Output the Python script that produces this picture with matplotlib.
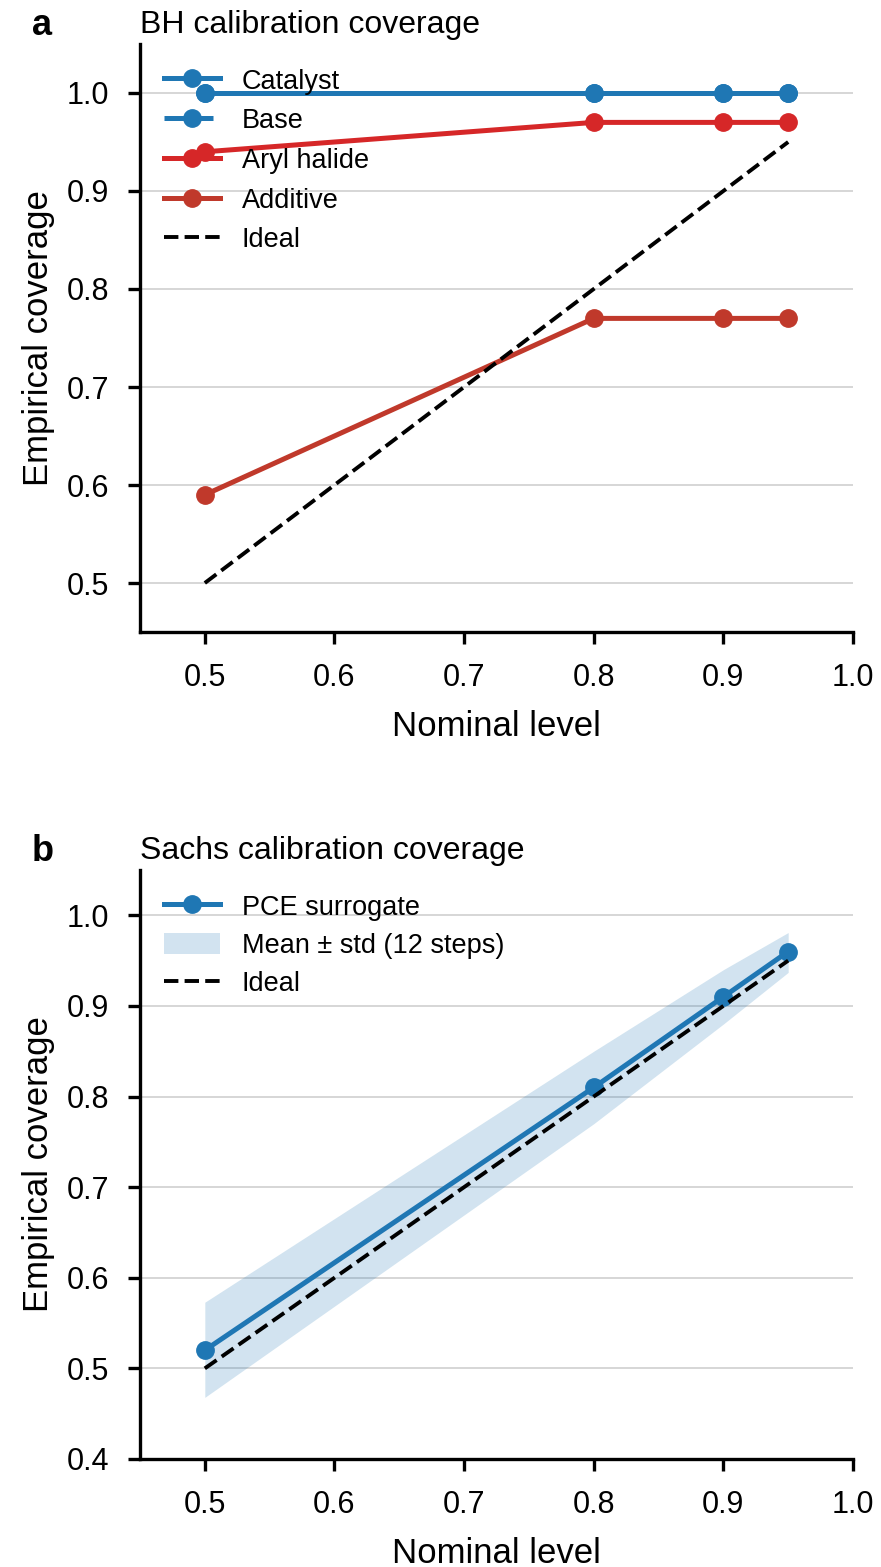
import matplotlib
matplotlib.use("Agg")
import matplotlib.pyplot as plt
import matplotlib.transforms as mtransforms
import numpy as np

plt.rcParams['font.family'] = ['Liberation Sans', 'DejaVu Sans']

# Panel a data
nominal_a = [0.5, 0.8, 0.9, 0.95]
catalyst = [1.0, 1.0, 1.0, 1.0]
base = [1.0, 1.0, 1.0, 1.0]
aryl_halide = [0.94, 0.97, 0.97, 0.97]
additive = [0.59, 0.77, 0.77, 0.77]

# Panel b data
nominal_b = [0.5, 0.8, 0.9, 0.95]
pce_mean = [0.52, 0.81, 0.91, 0.96]
pce_lower = [0.468, 0.77, 0.88, 0.937]
pce_upper = [0.573, 0.85, 0.94, 0.981]

ideal = [0.5, 0.8, 0.9, 0.95]
xticks = [0.5, 0.6, 0.7, 0.8, 0.9, 1.0]

fig = plt.figure(figsize=(8.81, 15.67), dpi=100)
W, H = 881, 1567
def ax_rect(l, r, t, b):
    return [l / W, 1 - b / H, (r - l) / W, (b - t) / H]

ax1 = fig.add_axes(ax_rect(140, 853, 44, 632))
ax2 = fig.add_axes(ax_rect(140, 853, 870, 1459))

blue = '#1f77b4'
red = '#d62728'
dred = '#c0392b'

lw = 3.6
ms = 12.5
ax1.plot(nominal_a, catalyst, '-o', color=blue, lw=lw, ms=ms, label='Catalyst', zorder=3)
ax1.plot(nominal_a, base, 'o', ls=(0, (9.8, 2.2)), color=blue, lw=lw, ms=ms, label='Base', zorder=3)
ax1.plot(nominal_a, aryl_halide, '-o', color=red, lw=lw, ms=ms, label='Aryl halide', zorder=3)
ax1.plot(nominal_a, additive, '-o', color=dred, lw=lw, ms=ms, label='Additive', zorder=3)
ax1.plot(nominal_a, ideal, '--', color='black', lw=2.8, label='Ideal', zorder=3)
ax1.set_ylim(0.45, 1.05)
ax1.set_yticks([0.5, 0.6, 0.7, 0.8, 0.9, 1.0])

ax2.fill_between(nominal_b, pce_lower, pce_upper, color=blue, alpha=0.2, lw=0,
                 label='Mean ± std (12 steps)', zorder=2)
ax2.plot(nominal_b, pce_mean, '-o', color=blue, lw=lw, ms=ms, label='PCE surrogate', zorder=3)
ax2.plot(nominal_b, ideal, '--', color='black', lw=2.8, label='Ideal', zorder=3)
ax2.set_ylim(0.4, 1.05)
ax2.set_yticks([0.4, 0.5, 0.6, 0.7, 0.8, 0.9, 1.0])
h, l = ax2.get_legend_handles_labels()
order = [1, 0, 2]

for ax, title, lab in [(ax1, 'BH calibration coverage', 'a'), (ax2, 'Sachs calibration coverage', 'b')]:
    ax.set_xlim(0.45, 1.0)
    ax.set_xticks(xticks)
    ax.set_xticklabels([f'{v:.1f}' for v in xticks])
    ax.set_yticklabels([f'{v:.1f}' for v in ax.get_yticks()])
    ax.grid(axis='y', color='#cccccc', lw=1.1, zorder=0)
    ax.set_axisbelow(True)
    for s in ['top', 'right']:
        ax.spines[s].set_visible(False)
    for s in ['left', 'bottom']:
        ax.spines[s].set_linewidth(2.4)
    ax.tick_params(axis='both', labelsize=22, width=2.4, length=8.5, direction='out')
    ax.tick_params(axis='x', pad=14)
    ax.tick_params(axis='y', pad=14)
    ax.set_xlabel('Nominal level', fontsize=25, labelpad=12)
    ax.set_ylabel('Empirical coverage', fontsize=25, labelpad=8)
    ax.set_title(title, loc='left', fontsize=23, pad=8)
    trans = mtransforms.offset_copy(ax.transAxes, fig=fig, x=0, y=9, units='dots')
    ax.text(-0.152, 1.0, lab, transform=trans, fontsize=26, fontweight='bold',
            va='baseline', ha='left')

ax1.legend(loc='upper left', frameon=False, fontsize=19.5, handlelength=2.05,
           borderaxespad=0.5, labelspacing=0.5, handleheight=0.85)
ax2.legend([h[i] for i in order], [l[i] for i in order], loc='upper left', frameon=False,
           fontsize=19.5, handlelength=2.05, borderaxespad=0.5, labelspacing=0.45,
           handleheight=0.85)

fig.savefig('out.png', dpi=100)
